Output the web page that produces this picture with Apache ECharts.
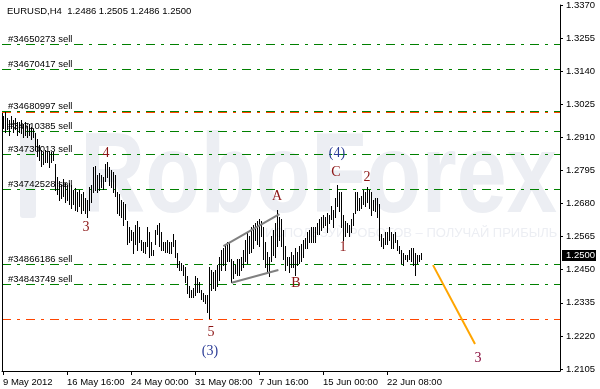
<!DOCTYPE html>
<html><head><meta charset="utf-8">
<script src="https://cdn.jsdelivr.net/npm/echarts@6/dist/echarts.min.js"></script>
<style>html,body{margin:0;padding:0;background:#fff}#c{width:600px;height:389px}</style>
</head><body><div id="c"></div>
<script>
// ---- data ----
const symbolTitle = 'EURUSD,H4';
const lastBar = [1.2486, 1.2505, 1.2486, 1.2500]; // O H L C
const highs = [
1.2984,1.2995,1.2977,1.2970,1.2981,1.2967,1.2974,1.2960,1.2963,1.2970,1.2953,1.2960,1.2949,1.2956,1.2946,1.2936,
1.2925,1.2901,1.2883,1.2866,1.2859,1.2866,1.2856,1.2862,1.2859,1.2856,1.2814,
1.2769,1.2755,1.2744,1.2762,1.2751,1.2741,1.2748,1.2744,1.2727,1.2734,1.2720,1.2727,1.2710,1.2717,1.2699,1.2692,
1.2737,1.2744,1.2804,1.2807,1.2779,1.2786,1.2779,1.2772,1.2814,1.2821,1.2804,1.2796,1.2789,1.2779,
1.2720,1.2710,1.2692,1.2682,1.2675,1.2616,1.2595,1.2588,1.2581,1.2605,1.2616,1.2598,1.2553,1.2546,1.2546,1.2595,1.2581,1.2543,1.2518,1.2588,1.2605,1.2612,1.2578,1.2546,1.2543,1.2553,1.2546,1.2543,1.2571,1.2553,
1.2508,1.2477,1.2473,1.2466,1.2456,1.2425,1.2390,1.2379,1.2386,1.2425,1.2421,1.2407,1.2379,1.2369,1.2362,1.2362,1.2456,
1.2449,1.2442,1.2449,1.2466,1.2494,1.2518,1.2525,1.2536,1.2543,1.2543,
1.2484,1.2477,1.2466,1.2484,1.2484,1.2494,1.2518,1.2553,1.2578,1.2564,1.2595,1.2605,1.2612,1.2616,1.2623,1.2616,1.2595,1.2543,1.2511,1.2494,1.2564,1.2588,1.2612,
1.2657,1.2633,1.2623,1.2588,1.2529,1.2494,1.2491,1.2511,1.2501,1.2525,1.2511,1.2529,1.2536,1.2553,1.2560,1.2578,1.2588,1.2595,1.2598,1.2598,1.2612,
1.2623,1.2630,1.2640,1.2633,1.2647,1.2640,1.2668,1.2657,1.2699,1.2744,1.2720,1.2717,1.2640,1.2616,1.2612,1.2605,1.2623,1.2647,1.2720,1.2717,1.2699,1.2703,1.2727,1.2717,1.2737,1.2727,1.2717,1.2692,1.2699,1.2699,
1.2675,1.2571,1.2560,1.2581,1.2578,1.2595,1.2581,1.2571,1.2578,1.2553,1.2529,1.2518,1.2508,1.2501,1.2501,1.2518,1.2525,1.2525,1.2508,1.2501,1.2501,1.2505
];
const lows = [
1.2942,1.2928,1.2936,1.2918,1.2942,1.2928,1.2936,1.2918,1.2928,1.2925,1.2911,1.2918,1.2908,1.2918,1.2901,1.2908,
1.2866,1.2842,1.2831,1.2810,1.2814,1.2821,1.2821,1.2804,1.2821,1.2831,1.2727,
1.2710,1.2692,1.2699,1.2706,1.2685,1.2692,1.2675,1.2664,1.2675,1.2657,1.2651,1.2671,1.2647,1.2657,1.2644,1.2633,
1.2657,1.2682,1.2717,1.2727,1.2720,1.2727,1.2734,1.2730,1.2755,1.2769,1.2744,1.2737,1.2720,1.2703,
1.2647,1.2640,1.2633,1.2605,1.2623,1.2536,1.2546,1.2553,1.2508,1.2536,1.2518,1.2546,1.2518,1.2511,1.2508,1.2529,1.2491,1.2501,1.2501,1.2536,1.2571,1.2529,1.2518,1.2518,1.2511,1.2511,1.2508,1.2508,1.2529,1.2494,
1.2456,1.2449,1.2449,1.2431,1.2404,1.2369,1.2352,1.2355,1.2352,1.2362,1.2372,1.2372,1.2345,1.2338,1.2334,1.2303,1.2282,
1.2379,1.2386,1.2379,1.2390,1.2414,1.2449,1.2466,1.2449,1.2477,1.2477,
1.2404,1.2421,1.2438,1.2431,1.2431,1.2449,1.2459,1.2477,1.2473,1.2508,1.2511,1.2525,1.2553,1.2536,1.2529,1.2564,1.2484,1.2459,1.2442,1.2425,1.2477,1.2501,1.2494,
1.2529,1.2553,1.2529,1.2484,1.2449,1.2466,1.2442,1.2459,1.2456,1.2431,1.2466,1.2473,1.2477,1.2494,1.2525,1.2525,1.2543,1.2546,1.2543,1.2546,1.2571,
1.2571,1.2588,1.2598,1.2605,1.2578,1.2612,1.2623,1.2598,1.2630,1.2668,1.2651,1.2598,1.2553,1.2564,1.2578,1.2564,1.2581,1.2602,1.2647,1.2657,1.2657,1.2664,1.2675,1.2668,1.2682,1.2664,1.2640,1.2657,1.2651,1.2633,
1.2553,1.2529,1.2525,1.2536,1.2536,1.2553,1.2525,1.2525,1.2543,1.2518,1.2508,1.2473,1.2466,1.2484,1.2477,1.2484,1.2477,1.2466,1.2431,1.2473,1.2477,1.2486
];
const timeTickIndex = [0, 32, 64, 96, 128, 160, 192];
const timeTickLabels = ['9 May 2012','16 May 16:00','24 May 00:00','31 May 08:00','7 Jun 16:00','15 Jun 00:00','22 Jun 08:00'];
const priceTicks = [1.2105,1.2220,1.2335,1.2450,1.2565,1.2680,1.2795,1.2910,1.3025,1.3140,1.3255,1.3370];
const orderNames = ['#34650273 sell','#34670417 sell','#34680997 sell','#34710385 sell','#34730013 sell','#34742528 sell','#34866186 sell','#34843749 sell'];
const orderLevels = [1.3233, 1.3147, 1.3000, 1.2931, 1.2851, 1.2730, 1.2469, 1.2400];
const stopLevels = [1.2998, 1.2278];
const waveText  = ['3', '4', '5', '(3)', 'A', 'B', 'C', '(4)', '1', '2', '3'];
const waveX     = [41.5, 51.5, 104, 103.5, 137, 146.5, 166.5, 167, 170, 182, 237.5];
const wavePrice = [1.2598, 1.2856, 1.2231, 1.2167, 1.2706, 1.2404, 1.2789, 1.2856, 1.2529, 1.2772, 1.2143];
const waveColor = ['#8b1414','#8b1414','#8b1414','#2b3c96','#8b1414','#8b1414','#8b1414','#2b3c96','#8b1414','#8b1414','#8a1040'];
const channelUpper = [[110.2, 1.2532], [138.2, 1.2643]];
const channelLower = [[114.3, 1.2405], [137.7, 1.2449]];
const projection = [[215, 1.2466], [236, 1.2192]];

// ---- chart ----
const FONT = '"Liberation Sans", Arial, sans-serif';
const chart = echarts.init(document.getElementById('c'), null, {renderer: 'canvas'});
const n = Math.min(highs.length, lows.length);
const barData = [];
for (let i = 0; i < n; i++) barData.push([i, highs[i], lows[i]]);

function levelSeries(levels, names, color, z) {
  return {
    type: 'custom', z: z, silent: true,
    data: levels.map((v, k) => [0, v, k]),
    encode: {x: 0, y: 1},
    renderItem: function (params, api) {
      const cs = params.coordSys;
      const y = Math.floor(api.coord([0, api.value(1)])[1]) + 0.5;
      const ch = [{type: 'line', shape: {x1: cs.x, y1: y, x2: cs.x + cs.width, y2: y},
        style: {stroke: color, lineWidth: 1, lineDash: [9, 6, 3, 6]}}];
      if (names) {
        ch.push({type: 'text', x: cs.x + 6, y: y - 5.5, z2: 10,
          style: {text: names[api.value(2)], font: '9.5px ' + FONT, fill: '#000', align: 'left', verticalAlign: 'middle'}});
      }
      return {type: 'group', children: ch};
    }
  };
}

chart.setOption({
  animation: false,
  backgroundColor: '#fff',
  grid: {left: 2, right: 40, top: 5, bottom: 18, containLabel: false, outerBoundsMode: 'none'},
  xAxis: {
    type: 'value', min: -0.5, max: 278.5, position: 'bottom',
    axisLine: {show: true, onZero: false, lineStyle: {color: '#000', width: 1}},
    axisTick: {show: true, length: 4, inside: false, customValues: timeTickIndex, lineStyle: {color: '#000'}},
    axisLabel: {show: true, customValues: timeTickIndex, align: 'left', margin: 6, color: '#000', fontSize: 9.5, fontFamily: FONT,
      formatter: v => { const k = timeTickIndex.indexOf(Math.round(v)); return k >= 0 ? timeTickLabels[k] : ''; }},
    splitLine: {show: false}
  },
  yAxis: {
    type: 'value', min: 1.2098, max: 1.3370, position: 'right', scale: true,
    axisLine: {show: true, onZero: false, lineStyle: {color: '#000', width: 1}},
    axisTick: {show: true, length: 3, inside: false, customValues: priceTicks, lineStyle: {color: '#000'}},
    axisLabel: {show: true, customValues: priceTicks, margin: 6, color: '#000', fontSize: 9.5, fontFamily: FONT,
      formatter: v => v.toFixed(4)},
    splitLine: {show: false}
  },
  series: [
    levelSeries(orderLevels, null, '#008000', 1),
    levelSeries(stopLevels, null, '#ff4500', 1),
    {
      type: 'custom', z: 2, silent: true, data: barData, encode: {x: 0, y: [1, 2]},
      renderItem: function (params, api) {
        const i = api.value(0);
        const t = api.coord([i, api.value(1)]);
        const b = api.coord([i, api.value(2)]);
        const x = Math.floor(t[0]) + 0.5;
        return {type: 'line', shape: {x1: x, y1: Math.floor(t[1]), x2: x, y2: Math.ceil(b[1])},
          style: {stroke: '#000', lineWidth: 1}};
      }
    },
    {type: 'line', z: 3, data: channelUpper, showSymbol: false, silent: true, lineStyle: {color: '#808080', width: 2}},
    {type: 'line', z: 3, data: channelLower, showSymbol: false, silent: true, lineStyle: {color: '#808080', width: 2}},
    {type: 'line', z: 3, data: projection, showSymbol: false, silent: true, lineStyle: {color: '#ffa500', width: 2}},
    levelSeries(orderLevels, orderNames, 'rgba(0,0,0,0)', 4),
    {
      type: 'custom', z: 5, silent: true,
      data: waveText.map((t, k) => [waveX[k], wavePrice[k], k]),
      encode: {x: 0, y: 1},
      renderItem: function (params, api) {
        const p = api.coord([api.value(0), api.value(1)]);
        const k = api.value(2);
        return {type: 'text', x: p[0], y: p[1],
          style: {text: waveText[k], font: '14px "Liberation Serif", "Times New Roman", serif', fill: waveColor[k], align: 'center', verticalAlign: 'middle'}};
      }
    }
  ]
});

const yLast = chart.convertToPixel({gridIndex: 0}, [0, lastBar[3]])[1];
const wm = '#eceef3';
chart.setOption({
  graphic: [
    {type: 'rect', z: 0, silent: true, shape: {x: 20, y: 130, width: 16, height: 88, r: 3}, style: {fill: wm}},
    {type: 'text', z: 0, silent: true, x: 80, y: 181, scaleX: 0.8,
      style: {text: 'RoboForex', font: 'bold 113px ' + FONT, fill: wm, align: 'left', verticalAlign: 'middle'}},
    {type: 'text', z: 0, silent: true, x: 265, y: 233,
      style: {text: 'ИСПОЛЬЗУЙ РОБОТОВ – ПОЛУЧАЙ ПРИБЫЛЬ', font: '13px ' + FONT, fill: wm, align: 'left', verticalAlign: 'middle'}},
    {type: 'line', z: 10, silent: true, shape: {x1: 2.5, y1: 113, x2: 2.5, y2: 371}, style: {stroke: '#000', lineWidth: 1}},
    {type: 'text', z: 10, silent: true, x: 7, y: 11,
      style: {text: symbolTitle + '  ' + lastBar.map(v => v.toFixed(4)).join(' '), font: '9.5px ' + FONT, fill: '#000', align: 'left', verticalAlign: 'middle'}},
    {type: 'rect', z: 10, silent: true, shape: {x: 562, y: Math.round(yLast) - 5, width: 34, height: 11}, style: {fill: '#000'}},
    {type: 'text', z: 11, silent: true, x: 566, y: Math.round(yLast) + 0.5,
      style: {text: lastBar[3].toFixed(4), font: '9.5px ' + FONT, fill: '#fff', align: 'left', verticalAlign: 'middle'}}
  ]
});
</script></body></html>
